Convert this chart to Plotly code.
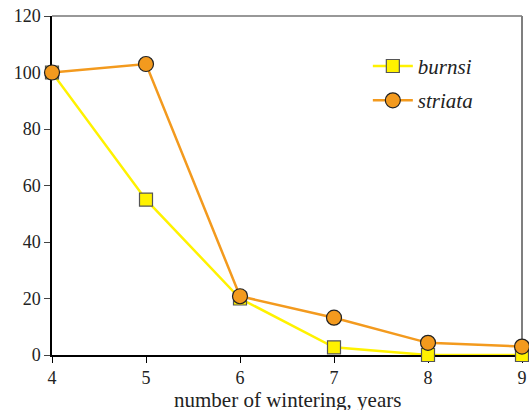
import plotly.graph_objects as go

years = [4, 5, 6, 7, 8, 9]
burnsi = [100, 55, 20, 2.7, 0, 0]
striata = [100, 103, 20.8, 13.2, 4.3, 3.0]
y_ticks = [0, 20, 40, 60, 80, 100, 120]
x_ticks = [4, 5, 6, 7, 8, 9]
x_title = "number of wintering, years"

FONT = "Liberation Serif"

fig = go.Figure()
fig.add_trace(go.Scatter(
    x=years, y=burnsi, name="burnsi", mode="lines+markers",
    line=dict(color="#FFF200", width=2.5),
    marker=dict(symbol="square", size=13, color="#FFF200",
                line=dict(color="#555555", width=1.2)),
    cliponaxis=False, legendgroup="a",
))
fig.add_trace(go.Scatter(
    x=years, y=striata, name="striata", mode="lines+markers",
    line=dict(color="#F39A1E", width=2.5),
    marker=dict(symbol="circle", size=15, color="#F39A1E",
                line=dict(color="#222222", width=1.2)),
    cliponaxis=False, legendgroup="b",
))

fig.update_layout(
    width=529, height=410,
    margin=dict(l=52, r=7, t=16, b=55),
    plot_bgcolor="white", paper_bgcolor="white",
    font=dict(family=FONT, size=17, color="#222222"),
    showlegend=True,
    legend=dict(x=0.672, y=0.912, xanchor="left", yanchor="top",
                font=dict(family=FONT, size=21, style="italic", color="#222222"),
                bgcolor="rgba(0,0,0,0)", tracegroupgap=4, itemwidth=40),
    xaxis=dict(range=[4, 9], tickvals=x_ticks, showgrid=False, zeroline=False,
               showline=True, linecolor="black", linewidth=1.5,
               ticks="outside", ticklen=6, tickcolor="black", layer="below traces",
               automargin=False,
               tickfont=dict(family=FONT, size=18, color="#222222")),
    yaxis=dict(range=[0, 120], tickvals=y_ticks, showgrid=False, zeroline=False,
               showline=True, linecolor="black", linewidth=1.5,
               ticks="outside", ticklen=6, tickcolor="#444444", layer="below traces",
               automargin=False,
               tickfont=dict(family=FONT, size=18, color="#222222")),
    annotations=[
        dict(text=x_title, xref="paper", yref="paper", x=0.5, y=0,
             xanchor="center", yanchor="top", yshift=-31, showarrow=False,
             font=dict(family=FONT, size=21, color="#222222")),
    ],
    shapes=[
        dict(type="line", xref="paper", yref="paper", x0=0, x1=1, y0=1, y1=1,
             line=dict(color="#333333", width=1.2), layer="below"),
        dict(type="line", xref="paper", yref="paper", x0=1, x1=1, y0=0, y1=1,
             line=dict(color="#7f7f7f", width=2), layer="below"),
    ],
)

fig.write_html("out.html", config={"displayModeBar": False},
               post_script="document.body.style.margin='0px';document.body.style.overflow='hidden';")
